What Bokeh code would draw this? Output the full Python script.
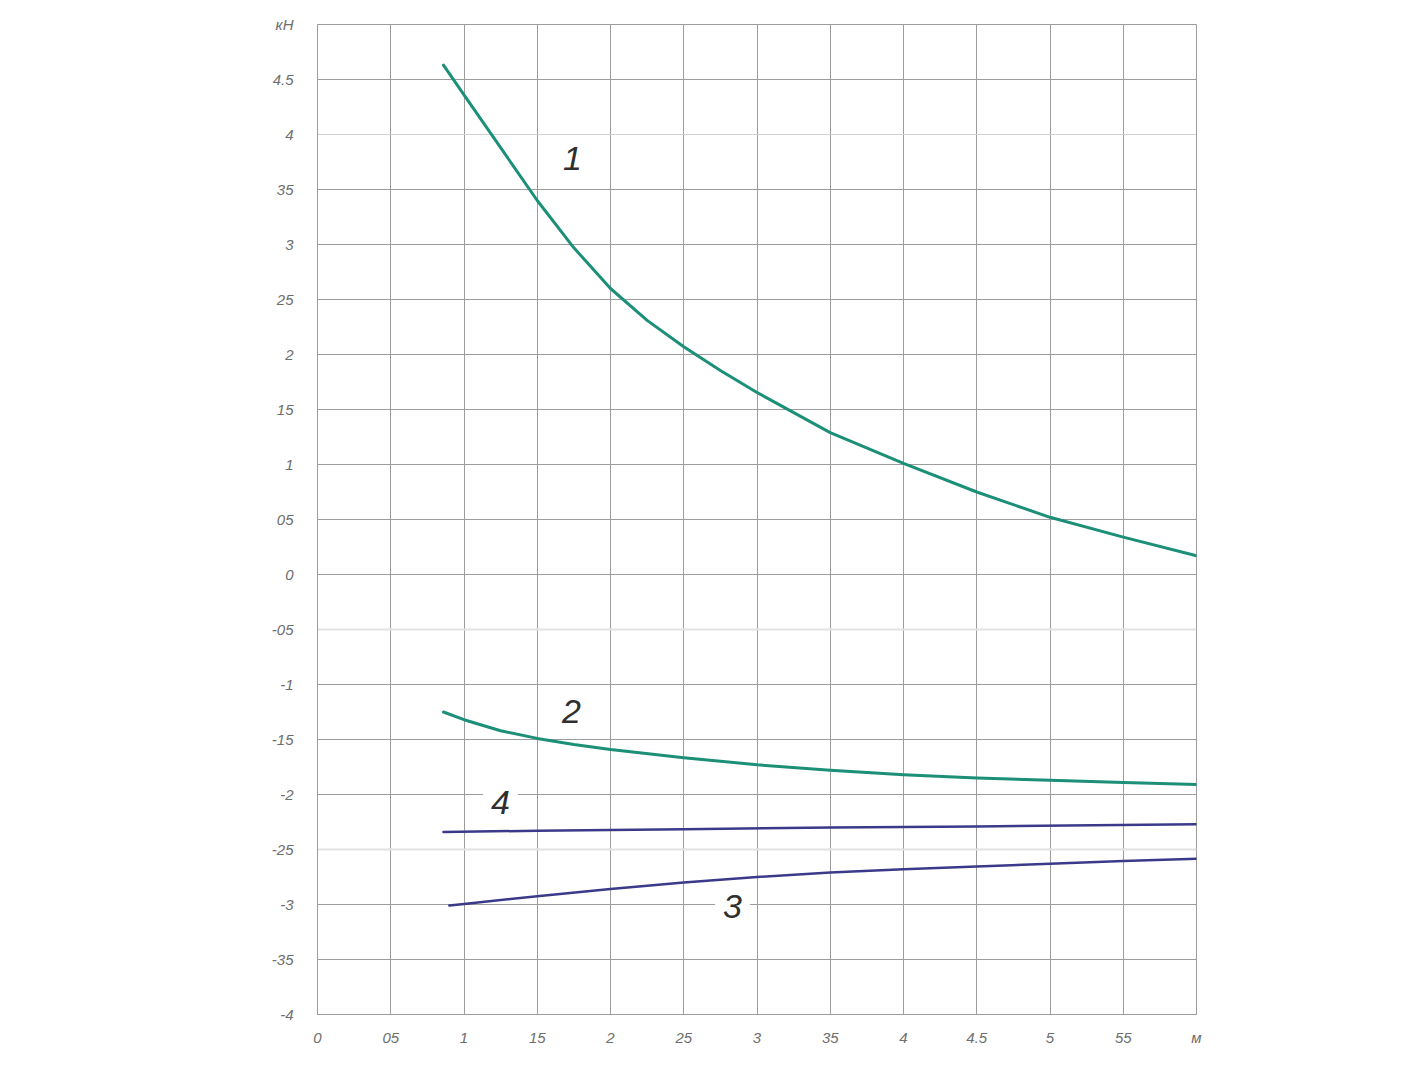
from bokeh.plotting import figure
from bokeh.models import Range1d, FixedTicker, Grid, Label
from bokeh.embed import file_html
from bokeh.resources import INLINE

# ---- data ----
curve1_x = [0.86, 1.0, 1.25, 1.5, 1.75, 2.0, 2.25, 2.5, 2.75, 3.0, 3.5, 4.0, 4.5, 5.0, 5.5, 6.0]
curve1_y = [4.63, 4.36, 3.88, 3.40, 2.97, 2.60, 2.31, 2.07, 1.855, 1.655, 1.29, 1.01, 0.75, 0.52, 0.34, 0.17]

curve2_x = [0.86, 1.0, 1.25, 1.5, 1.75, 2.0, 2.5, 3.0, 3.5, 4.0, 4.5, 5.0, 5.5, 6.0]
curve2_y = [-1.25, -1.32, -1.42, -1.49, -1.545, -1.59, -1.665, -1.73, -1.78, -1.82, -1.85, -1.87, -1.89, -1.91]

curve3_x = [0.9, 1.0, 1.5, 2.0, 2.5, 3.0, 3.5, 4.0, 4.5, 5.0, 5.5, 6.0]
curve3_y = [-3.01, -2.995, -2.925, -2.86, -2.80, -2.75, -2.71, -2.68, -2.655, -2.63, -2.605, -2.585]

curve4_x = [0.86, 1.5, 2.5, 3.5, 4.5, 6.0]
curve4_y = [-2.34, -2.33, -2.315, -2.30, -2.29, -2.27]

curve_names = ["1", "2", "3", "4"]

x_ticks = [0, 0.5, 1, 1.5, 2, 2.5, 3, 3.5, 4, 4.5, 5, 5.5, 6]
x_tick_labels = ["0", "05", "1", "15", "2", "25", "3", "35", "4", "4.5", "5", "55", "м"]
y_ticks = [-4, -3.5, -3, -2.5, -2, -1.5, -1, -0.5, 0, 0.5, 1, 1.5, 2, 2.5, 3, 3.5, 4, 4.5, 5]
y_tick_labels = ["-4", "-35", "-3", "-25", "-2", "-15", "-1", "-05", "0", "05", "1", "15",
                 "2", "25", "3", "35", "4", "4.5", "кН"]
faint_y_lines = [-2.5, -0.5]
light_y_lines = [4]

# ---- layout geometry (pixels) ----
FL, FT, FW, FH = 317, 24, 879, 990
W, H = 1408, 1085
X0, X1, Y0, Y1 = 0, 6, -4, 5


def px_x(px):
    return X0 + (px - FL) / FW * (X1 - X0)


def px_y(py):
    return Y1 - (py - FT) / FH * (Y1 - Y0)


p = figure(frame_width=FW, frame_height=FH,
           x_range=Range1d(X0, X1), y_range=Range1d(Y0, Y1),
           output_backend="svg", toolbar_location=None,
           min_border_left=FL, min_border_right=W - FL - FW,
           min_border_top=FT, min_border_bottom=H - FT - FH,
           background_fill_color="white", border_fill_color="white")

grid_col = "#9c9c9c"
p.outline_line_color = grid_col

# grids
major_y = [t for t in y_ticks if t not in faint_y_lines + light_y_lines]
p.xgrid.ticker = FixedTicker(ticks=x_ticks)
p.xgrid.grid_line_color = grid_col
p.ygrid.ticker = FixedTicker(ticks=major_y)
p.ygrid.grid_line_color = grid_col
p.add_layout(Grid(dimension=1, ticker=FixedTicker(ticks=faint_y_lines),
                  grid_line_color="#e2e2e2", grid_line_width=2))
p.add_layout(Grid(dimension=1, ticker=FixedTicker(ticks=light_y_lines),
                  grid_line_color="#d2cfd0", grid_line_width=1))

# axes
for ax in (p.xaxis[0], p.yaxis[0]):
    ax.axis_line_color = grid_col
    ax.major_tick_line_color = None
    ax.minor_tick_line_color = None
    ax.major_label_text_font = "Liberation Sans"
    ax.major_label_text_font_style = "italic"
    ax.major_label_text_font_size = "15px"
    ax.major_label_text_color = "#6e6e6e"
p.xaxis.ticker = FixedTicker(ticks=x_ticks)
p.xaxis.major_label_overrides = {t: s for t, s in zip(x_ticks, x_tick_labels)}
p.xaxis.major_label_standoff = 8
p.yaxis.ticker = FixedTicker(ticks=y_ticks)
p.yaxis.major_label_overrides = {t: s for t, s in zip(y_ticks, y_tick_labels)}
p.yaxis.major_label_standoff = 18

# curves
teal = "#1b8f77"
purple = "#3b3a8a"
for cx, cy, col, lw in [(curve1_x, curve1_y, teal, 3), (curve2_x, curve2_y, teal, 3),
                        (curve3_x, curve3_y, purple, 2.5), (curve4_x, curve4_y, purple, 2.5)]:
    p.line(cx, cy, line_color=col, line_width=lw, line_join="round", line_cap="round")

# curve numbers
label_px = [(572, 158), (571, 711), (732, 906), (500, 802)]
for name, (lx, ly) in zip(curve_names, label_px):
    p.add_layout(Label(x=px_x(lx), y=px_y(ly), text=name, text_align="center",
                       text_baseline="middle", text_font="Liberation Sans",
                       text_font_style="italic", text_font_size="34px",
                       text_color="#2f2f2f", background_fill_color="white",
                       padding=8))

open("out.html", "w").write(file_html(p, INLINE))
